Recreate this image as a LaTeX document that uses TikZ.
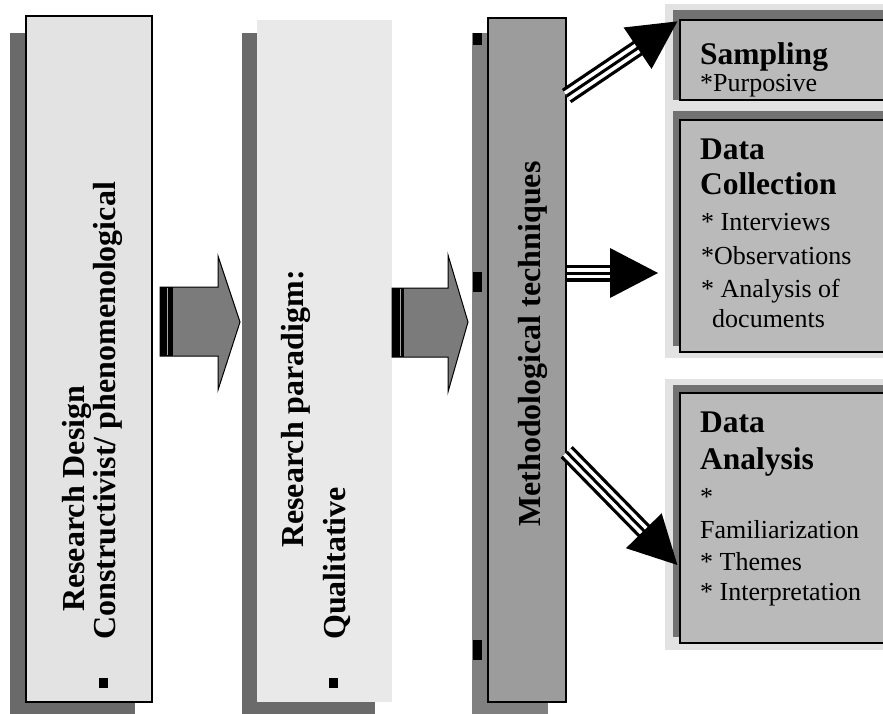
\documentclass[tikz,border=0pt]{standalone}
\usepackage{fontspec}
\setmainfont{Liberation Serif}
\usetikzlibrary{calc}
\definecolor{paleA}{HTML}{E3E3E3}
\definecolor{paleB}{HTML}{E9E9E9}
\definecolor{shadeA}{HTML}{6A6A6A}
\definecolor{midcol}{HTML}{9C9C9C}
\definecolor{midshade}{HTML}{808080}
\definecolor{arrowgray}{HTML}{7B7B7B}
\definecolor{boxfill}{HTML}{BABABA}
\definecolor{boxband}{HTML}{727272}
\definecolor{halo}{HTML}{E2E2E2}
\begin{document}
\begin{tikzpicture}[x=1pt,y=-1pt,
  coltxt/.style={rotate=90, anchor=base west, inner sep=0pt,
    font=\fontsize{32}{38}\selectfont\bfseries},
  bulletsq/.style={fill=black, inner sep=0pt, minimum width=9pt, minimum height=10pt},
  colbox/.style={inner sep=0pt, line width=1.4pt},
  blockarrow/.style={fill=arrowgray, draw=black, line width=1pt, line join=miter},
  rbox/.style={fill=boxfill, draw=black, line width=1.2pt},
  headtxt/.style={anchor=base west, inner sep=0pt, font=\fontsize{31.5}{36}\selectfont\bfseries},
  itemtxt/.style={anchor=base west, inner sep=0pt, font=\fontsize{26}{30}\selectfont},
  shaftline/.style={draw=black, line width=17pt,
    postaction={draw=white, line width=10.5pt},
    postaction={draw=black, line width=3pt}},
]
\useasboundingbox (0,0) rectangle (883,714);
\clip (0,0) rectangle (883,714);
\fill[white] (0,0) rectangle (883,714);

% ---- column 1: research design
\fill[shadeA] (10,33) rectangle (135,714);
\node[colbox, fill=paleA, draw=black, minimum width=126pt, minimum height=686pt] (c1) at (89,359) {};
\node[coltxt] (c1h) at (84,612) {Research Design};
\node[coltxt] (c1t) at (115,640) {Constructivist/ phenomenological};
\node[bulletsq] (c1b) at (103,683) {};

% ---- column 2: research paradigm
\fill[shadeA] (242,33) rectangle (375,714);
\node[colbox, fill=paleB, minimum width=135pt, minimum height=682pt] (c2) at (324.5,361) {};
\node[coltxt] (c2h) at (303,548) {Research paradigm:};
\node[coltxt] (c2t) at (345,640) {Qualitative};
\node[bulletsq] (c2b) at (333,683) {};

% ---- column 3: methodological techniques
\fill[midshade] (472,33) rectangle (548,714);
\fill[black] (473,33) rectangle (482,45);
\fill[black] (473,272) rectangle (482,292);
\fill[black] (473,640) rectangle (482,660);
\node[colbox, fill=midcol, draw=black, minimum width=78pt, minimum height=684pt] (c3) at (527,360) {};
\node[coltxt] (c3t) at (540,527) {Methodological techniques};

% ---- block arrows between the columns
\draw[blockarrow] (160,287) -- (218,287) -- (218,256) -- (240,322) -- (218,390) -- (218,356) -- (160,356) -- cycle;
\fill[black] (160,287) rectangle (173,356);
\draw[gray!70, line width=0.8pt] (167,288) -- (167,355);
\draw[blockarrow] (392,288) -- (448,288) -- (448,255) -- (468,322) -- (448,392) -- (448,357) -- (392,357) -- cycle;
\fill[black] (392,288) rectangle (404,357);
\draw[gray!70, line width=0.8pt] (400,289) -- (400,356);

% ---- right-hand boxes
\fill[halo] (665,4) rectangle (883,106);
\fill[boxband] (673,10) rectangle (883,100);
\node[rbox, inner sep=0pt, minimum width=215pt, minimum height=80pt] (samp) at (787.5,60) {};
\node[headtxt] (samp-h) at (700,65) {Sampling};
\node[itemtxt] (samp-1) at (700,92) {*Purposive};

\fill[halo] (665,106) rectangle (883,358);
\fill[boxband] (673,111) rectangle (883,346);
\node[rbox, inner sep=0pt, minimum width=215pt, minimum height=232pt] (coll) at (787.5,236) {};
\node[headtxt] (coll-h1) at (700,160) {Data};
\node[headtxt] (coll-h2) at (700,195) {Collection};
\node[itemtxt] (coll-1) at (701,230) {* Interviews};
\node[itemtxt] (coll-2) at (701,264) {*Observations};
\node[itemtxt] (coll-3) at (701,297) {* Analysis of};
\node[itemtxt] (coll-4) at (712,327) {documents};

\fill[halo] (665,379) rectangle (883,650);
\fill[boxband] (673,385) rectangle (883,637);
\node[rbox, inner sep=0pt, minimum width=215pt, minimum height=250pt] (anal) at (787.5,518) {};
\node[headtxt] (anal-h1) at (700,432) {Data};
\node[headtxt] (anal-h2) at (700,469) {Analysis};
\node[itemtxt] (anal-1) at (700,505) {*};
\node[itemtxt] (anal-2) at (700,538) {Familiarization};
\node[itemtxt] (anal-3) at (700,570) {* Themes};
\node[itemtxt] (anal-4) at (700,600) {* Interpretation};

% ---- triple-line arrows from the techniques column to the boxes
\coordinate (s1) at (c3.east |- 0,96);
\coordinate (t1) at ($(samp.north west)+(-2,2)$);
\coordinate (s2) at (c3.east |- 0,273);
\coordinate (t2) at (658,273);
\coordinate (s3) at (c3.east |- 0,452);
\coordinate (t3) at ($(anal.west)+(-2,47)$);
\foreach \s/\t in {s1/t1, s2/t2, s3/t3}{
  \draw[shaftline] (\s) -- ($(\t)!42pt!(\s)$);
  \coordinate (hb) at ($(\t)!48pt!(\s)$);
  \fill[black] (\t) -- ($(hb)!25pt!90:(\t)$) -- ($(hb)!25pt!-90:(\t)$) -- cycle;
}
\end{tikzpicture}
\end{document}
